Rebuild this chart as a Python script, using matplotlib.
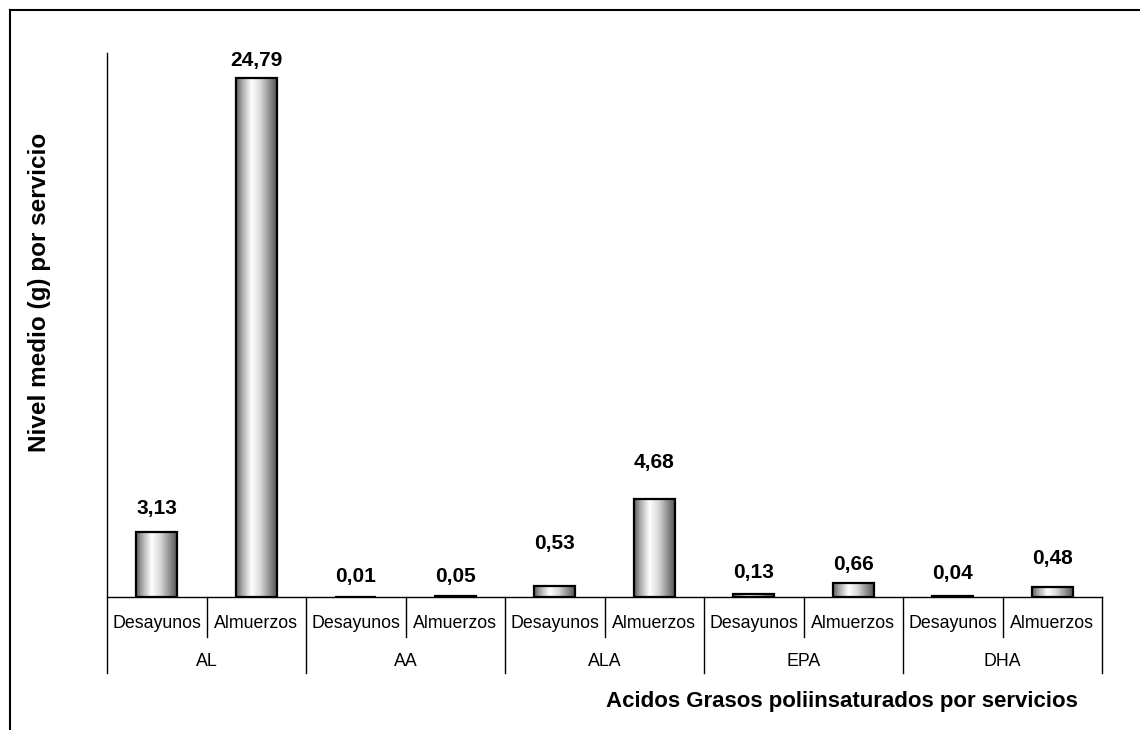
import numpy as np
import matplotlib
matplotlib.use("Agg")
import matplotlib.pyplot as plt
from matplotlib.colors import LinearSegmentedColormap
from matplotlib.lines import Line2D
import matplotlib.transforms as mtransforms

plt.rcParams['font.family'] = ['Liberation Sans', 'DejaVu Sans']

groups = ['AL', 'AA', 'ALA', 'EPA', 'DHA']
services = ['Desayunos', 'Almuerzos']
desayunos = [3.13, 0.01, 0.53, 0.13, 0.04]
almuerzos = [24.79, 0.05, 4.68, 0.66, 0.48]

ylabel = 'Nivel medio (g) por servicio'
xlabel = 'Acidos Grasos poliinsaturados por servicios'

# gap (pixels) between each bar top and its value label
label_gaps = [14, 8, 11, 10, 33, 27, 12, 9, 13, 19]

W, H = 1140, 730
fig = plt.figure(figsize=(W / 100, H / 100), dpi=100)
ax = fig.add_axes([107 / W, 1 - 597 / H, (1102 - 107) / W, (597 - 53) / H])

# interleave the two services within each fatty-acid group
values = []
for d, a in zip(desayunos, almuerzos):
    values += [d, a]
xs = np.arange(len(values))
bar_w = 0.41

cyl = LinearSegmentedColormap.from_list(
    'cyl', [(0.0, '#5e5e5e'), (0.15, '#a8a8a8'), (0.38, '#ffffff'),
            (0.6, '#d8d8d8'), (0.85, '#868686'), (1.0, '#555555')])
grad = np.linspace(0, 1, 256).reshape(1, -1)

bars = ax.bar(xs, values, width=bar_w, facecolor='none', edgecolor='black',
              linewidth=1.6, zorder=3)
for b, v, gap in zip(bars, values, label_gaps):
    x0 = b.get_x()
    im = ax.imshow(grad, cmap=cyl, aspect='auto', extent=[x0, x0 + bar_w, 0, v],
                   zorder=2, interpolation='bicubic')
    im.set_clip_path(b)
    ax.annotate(f'{v:.2f}'.replace('.', ','), (b.get_x() + bar_w / 2, v),
                xytext=(0, gap * 0.72), textcoords='offset points', ha='center',
                va='bottom', fontsize=15, fontweight='bold', zorder=4)

ax.set_xlim(-0.5, len(values) - 0.5)
ax.set_ylim(0, 26)
for s in ax.spines.values():
    s.set_visible(False)
ax.set_xticks([])
ax.set_yticks([])

axh = 597 - 53
trans = mtransforms.blended_transform_factory(ax.transData, ax.transAxes)
lw = 1.0
# value axis line and category baseline
ax.add_line(Line2D([-0.5, -0.5], [1.0, -76 / axh], transform=trans,
                   color='black', lw=lw, clip_on=False))
ax.add_line(Line2D([-0.5, len(values) - 0.5], [0, 0], transform=trans,
                   color='black', lw=lw, clip_on=False))
# separators between services and groups
for i in range(1, len(values) + 1):
    bottom = -76 / axh if i % 2 == 0 else -40 / axh
    ax.add_line(Line2D([i - 0.5, i - 0.5], [0, bottom], transform=trans,
                       color='black', lw=lw, clip_on=False))

for i, x in enumerate(xs):
    ax.text(x, -26 / axh, services[i % 2], transform=trans, ha='center',
            va='center', fontsize=12.8)
for g, name in enumerate(groups):
    ax.text(2 * g + 0.5, -65 / axh, name, transform=trans, ha='center',
            va='center', fontsize=12.8)

fig.text(40 / W, 1 - 292 / H, ylabel, rotation=90, ha='center', va='center',
         fontsize=17.5, fontweight='bold')
fig.text(842 / W, 1 - 701 / H, xlabel, ha='center', va='center',
         fontsize=16, fontweight='bold')

# outer frame
fig.add_artist(Line2D([10 / W, 1.0], [1 - 10 / H, 1 - 10 / H],
                      transform=fig.transFigure, color='black', lw=1.5))
fig.add_artist(Line2D([10 / W, 10 / W], [1 - 10 / H, 0.0],
                      transform=fig.transFigure, color='black', lw=1.5))

fig.savefig('out.png', dpi=100, facecolor='white')
